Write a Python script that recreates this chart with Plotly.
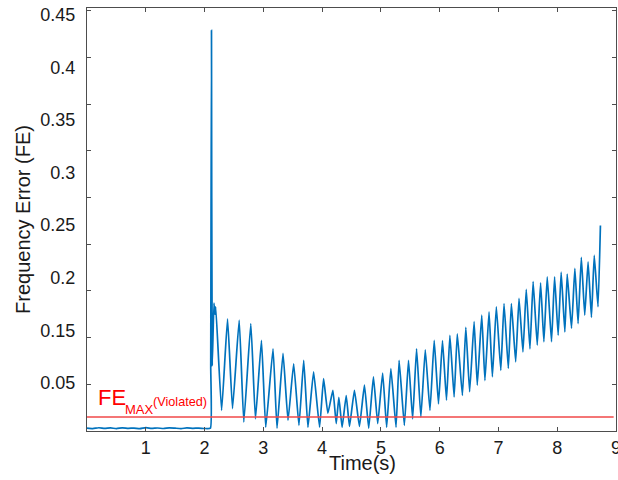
import plotly.graph_objects as go

# ---- data ----
time_s = [
    0.0, 0.1, 0.2, 0.3, 0.4, 0.5, 0.6, 0.7, 0.8, 0.9, 1.0, 1.1, 1.2, 1.3, 1.4, 1.5,
    1.6, 1.7, 1.8, 1.9, 2.0, 2.1,
    2.105, 2.118, 2.13, 2.16, 2.175, 2.19, 2.29, 2.391, 2.476, 2.589, 2.668, 2.787,
    2.866, 2.968, 3.041, 3.165, 3.233, 3.335, 3.42, 3.516, 3.606, 3.687, 3.759,
    3.855, 3.957, 4.025, 4.098, 4.183, 4.24, 4.285, 4.34, 4.41, 4.466, 4.55, 4.635,
    4.72, 4.793, 4.873, 4.946, 5.03, 5.098, 5.17, 5.258, 5.31, 5.399, 5.47, 5.54,
    5.607, 5.68, 5.755, 5.835, 5.907, 5.98, 6.048, 6.116, 6.174, 6.246, 6.30, 6.387,
    6.445, 6.51, 6.586, 6.64, 6.716, 6.77, 6.84, 6.897, 6.964, 7.04, 7.095, 7.168,
    7.22, 7.293, 7.35, 7.417, 7.473, 7.536, 7.59, 7.66, 7.717, 7.773, 7.83, 7.903,
    7.955, 8.016, 8.067, 8.13, 8.17, 8.243, 8.30, 8.355, 8.41, 8.468, 8.525, 8.582,
    8.63, 8.694, 8.735,
]
fe_values = [
    0.0030, 0.0025, 0.0035, 0.0028, 0.0033, 0.0026, 0.0034, 0.0029, 0.0031, 0.0025,
    0.0036, 0.0028, 0.0032, 0.0027, 0.0034, 0.0030, 0.0026, 0.0033, 0.0029, 0.0031,
    0.0027, 0.0030,
    0.070, 0.429, 0.070, 0.137, 0.125, 0.133, 0.022, 0.120, 0.024, 0.1186, 0.0096, 0.115,
    0.013, 0.097, 0.004, 0.088, 0.003, 0.083, 0.0115, 0.072, 0.006, 0.0757, 0.004,
    0.0632, 0.004, 0.056, 0.019, 0.0436, 0.008, 0.036, 0.004, 0.038, 0.005, 0.0436, 0.005,
    0.049, 0.003, 0.058, 0.008, 0.062, 0.004, 0.0668, 0.004, 0.0757, 0.006, 0.0757, 0.013,
    0.088, 0.015, 0.087, 0.022, 0.097, 0.029, 0.0967, 0.033, 0.1025, 0.0364, 0.104, 0.038,
    0.111, 0.042, 0.117, 0.049, 0.124, 0.054, 0.1275, 0.058, 0.133, 0.065, 0.1365, 0.067,
    0.1365, 0.074, 0.142, 0.0846, 0.1516, 0.088, 0.160, 0.092, 0.1587, 0.0955, 0.165, 0.0955,
    0.165, 0.1025, 0.170, 0.106, 0.168, 0.110, 0.174, 0.115, 0.186, 0.124, 0.181, 0.1217,
    0.188, 0.133, 0.220,
]

fe_max_value = 0.015
fe_max_span = [0.0, 8.96]

x_tick_values = [1, 2, 3, 4, 5, 6, 7, 8, 9]
x_tick_labels = ["1", "2", "3", "4", "5", "6", "7", "8", "9"]

# y tick marks (true axis scale)
y_tick_marks = [0.05, 0.10, 0.15, 0.20, 0.25, 0.30, 0.35, 0.40, 0.45]
# y tick labels as printed in the reference (positions on the axis scale)
y_label_positions = [0.4453, 0.3891, 0.3328, 0.2766, 0.2204, 0.1641, 0.1079, 0.0516]
y_label_texts = ["0.45", "0.4", "0.35", "0.3", "0.25", "0.2", "0.15", "0.05"]

y_range = [0, 0.4528]
x_range = [0, 9]

FONT = "Liberation Sans, Arial, sans-serif"
AXIS_COLOR = "#4d4d4d"
TEXT_COLOR = "#1a1a1a"
RED_TEXT = "#ff0000"

fig = go.Figure()
fig.add_trace(go.Scatter(
    x=time_s, y=fe_values, mode="lines",
    line=dict(color="#0072BD", width=1.7, shape="spline", smoothing=0.4),
    showlegend=False, hoverinfo="skip",
))
fig.add_trace(go.Scatter(
    x=fe_max_span, y=[fe_max_value, fe_max_value], mode="lines",
    line=dict(color="#f04848", width=1.5),
    showlegend=False, hoverinfo="skip", yaxis="y2",
))

# threshold label: FE with subscript MAX and superscript (Violated)
fig.add_annotation(
    x=0.155, y=0.0361, xref="x", yref="y", text="FE",
    showarrow=False, xanchor="left", yanchor="middle",
    font=dict(family=FONT, size=22, color=RED_TEXT),
)
fig.add_annotation(
    x=0.616, y=0.0228, xref="x", yref="y", text="MAX",
    showarrow=False, xanchor="left", yanchor="middle",
    font=dict(family=FONT, size=13, color=RED_TEXT),
)
fig.add_annotation(
    x=1.086, y=0.0313, xref="x", yref="y", text="(Violated)",
    showarrow=False, xanchor="left", yanchor="middle",
    font=dict(family=FONT, size=12.7, color=RED_TEXT),
)
# x-axis title
fig.add_annotation(
    x=0.5208, y=-0.0750, xref="paper", yref="paper",
    text="Time(s)", showarrow=False, xanchor="center", yanchor="middle",
    font=dict(family=FONT, size=20, color=TEXT_COLOR),
)

fig.update_layout(
    width=618, height=480,
    margin=dict(l=87, r=2, t=8, b=49, autoexpand=False),
    paper_bgcolor="white", plot_bgcolor="white",
    font=dict(family=FONT, color=TEXT_COLOR),
    xaxis=dict(
        range=x_range, autorange=False, automargin=False,
        tickvals=x_tick_values, ticktext=x_tick_labels,
        ticks="inside", ticklen=4, tickcolor=AXIS_COLOR, tickwidth=1,
        showline=True, linecolor=AXIS_COLOR, linewidth=1, mirror="ticks",
        showgrid=False, zeroline=False, ticklabeloverflow="allow",
        tickfont=dict(size=18, family=FONT, color=TEXT_COLOR),
    ),
    yaxis=dict(
        range=y_range, autorange=False, automargin=False,
        tickvals=y_label_positions, ticktext=y_label_texts,
        ticks="", showline=True, linecolor=AXIS_COLOR, linewidth=1, mirror=True,
        showgrid=False, zeroline=False, ticklabeloverflow="allow",
        tickfont=dict(size=18, family=FONT, color=TEXT_COLOR),
        ticklabelstandoff=7,
        title=dict(text="Frequency Error (FE)", font=dict(size=20, family=FONT, color=TEXT_COLOR), standoff=4),
    ),
    yaxis2=dict(
        range=y_range, autorange=False, automargin=False,
        overlaying="y", anchor="x", side="left",
        tickvals=y_tick_marks, ticks="inside", ticklen=4, tickcolor=AXIS_COLOR, tickwidth=1,
        showticklabels=False, showline=False, mirror="ticks",
        showgrid=False, zeroline=False,
    ),
)

fig.write_html(
    "out.html",
    config={"displayModeBar": False},
    post_script="document.body.style.margin='0';document.body.style.overflow='hidden';",
)
